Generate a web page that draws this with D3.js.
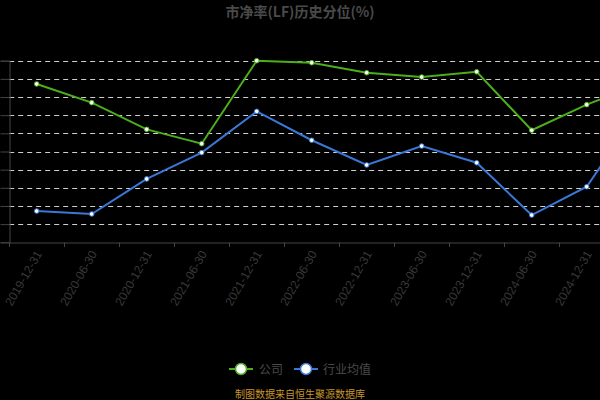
<!DOCTYPE html>
<html>
<head>
<meta charset="utf-8">
<script src="https://cdn.jsdelivr.net/npm/d3@7"></script>
<style>
html,body{margin:0;padding:0;background:#000;overflow:hidden;}
svg{display:block;font-family:"Noto Sans CJK SC","Noto Sans",sans-serif;}
</style>
</head>
<body>
<svg id="chart" width="600" height="400"></svg>
<script>
const categories = ["2019-12-31","2020-06-30","2020-12-31","2021-06-30","2021-12-31","2022-06-30","2022-12-31","2023-06-30","2023-12-31","2024-06-30","2024-12-31","2025-06-30"];
const companyValues = [87.2, 76.9, 62.2, 54.3, 100, 98.9, 93.4, 91.0, 93.9, 61.7, 75.8, 87.5];
const industryValues = [17.2, 15.6, 34.9, 49.4, 72.1, 56.2, 42.6, 53.0, 43.8, 15.0, 30.6, 75.0];
const yTicks = [0,10,20,30,40,50,60,70,80,90,100];
const seriesNames = ["公司","行业均值"];
const title = "市净率(LF)历史分位(%)";
const footer = "制图数据来自恒生聚源数据库";

const svg = d3.select("#chart");
const W = 600, H = 400;
svg.append("rect").attr("width",W).attr("height",H).attr("fill","#000");

const x = d3.scaleBand().domain(categories).range([9.2, 669.2]);
const y = d3.scaleLinear().domain([0,100]).range([242.3, 60.7]);

// grid
svg.append("g").selectAll("line").data(yTicks.filter(d=>d>0)).join("line")
  .attr("x1", 9.2).attr("x2", 680)
  .attr("y1", d=>Math.round(y(d))+0.5).attr("y2", d=>Math.round(y(d))+0.5)
  .attr("stroke","#cfcfcf").attr("stroke-width",1).attr("stroke-dasharray","5,4");

// y axis (labels lie outside the visible area in the reference)
const yAxis = d3.axisLeft(y).tickValues(yTicks).tickSize(9).tickFormat("");
const gy = svg.append("g").attr("transform","translate(9.5,0)").call(yAxis);
gy.select(".domain").attr("stroke","#444");
gy.selectAll(".tick line").attr("stroke","#444");

// x axis (only labels whose anchor is inside the visible area, as in the reference)
const xAxis = d3.axisBottom(x).tickSizeOuter(0).tickSize(0)
  .tickFormat(d => (x(d) + x.bandwidth()/2) < W ? d : "");
const gx = svg.append("g").attr("transform","translate(0,242.5)").call(xAxis);
gx.select(".domain").attr("stroke","#444");
gx.selectAll(".tick text")
  .attr("fill","#383838").attr("font-size",12)
  .attr("text-anchor","end")
  .attr("transform","translate(2,9) rotate(-60)")
  .attr("dy","0.35em").attr("y",0).attr("x",0);
// boundary ticks
svg.append("g").selectAll("line").data(categories).join("line")
  .attr("x1", d=>Math.round(x(d))+0.5).attr("x2", d=>Math.round(x(d))+0.5)
  .attr("y1",242.5).attr("y2",247).attr("stroke","#444");

const series = [
  {name: seriesNames[0], values: companyValues, color:"#4caf1a"},
  {name: seriesNames[1], values: industryValues, color:"#3a78d8"}
];
const line = d3.line().x((d,i)=>x(categories[i])+x.bandwidth()/2).y(d=>y(d));
series.forEach(s=>{
  svg.append("path").datum(s.values).attr("d",line)
    .attr("fill","none").attr("stroke",s.color).attr("stroke-width",2);
  svg.append("g").selectAll("circle").data(s.values).join("circle")
    .attr("cx",(d,i)=>x(categories[i])+x.bandwidth()/2)
    .attr("cy",d=>y(d)).attr("r",2.3)
    .attr("fill","#fff").attr("stroke",s.color).attr("stroke-width",1);
});

// title
svg.append("text").attr("x",300).attr("y",17).attr("text-anchor","middle")
  .attr("font-size",14).attr("font-weight","bold").attr("fill","#4a4a4a").text(title);

// legend
const legendItems = [
  {name: seriesNames[0], color: series[0].color, lx: 229, tx: 259},
  {name: seriesNames[1], color: series[1].color, lx: 294, tx: 323}
];
legendItems.forEach(l=>{
  svg.append("line").attr("x1",l.lx).attr("x2",l.lx+24).attr("y1",369).attr("y2",369)
    .attr("stroke",l.color).attr("stroke-width",2);
  svg.append("circle").attr("cx",l.lx+12).attr("cy",369).attr("r",5.5)
    .attr("fill","#fff").attr("stroke",l.color).attr("stroke-width",1.5);
  svg.append("text").attr("x",l.tx).attr("y",373.5).attr("font-size",12)
    .attr("fill","#4a4a4a").text(l.name);
});

// footer
svg.append("text").attr("x",300).attr("y",397.5).attr("text-anchor","middle")
  .attr("font-size",10).attr("fill","#c8962e").text(footer);
</script>
</body>
</html>
